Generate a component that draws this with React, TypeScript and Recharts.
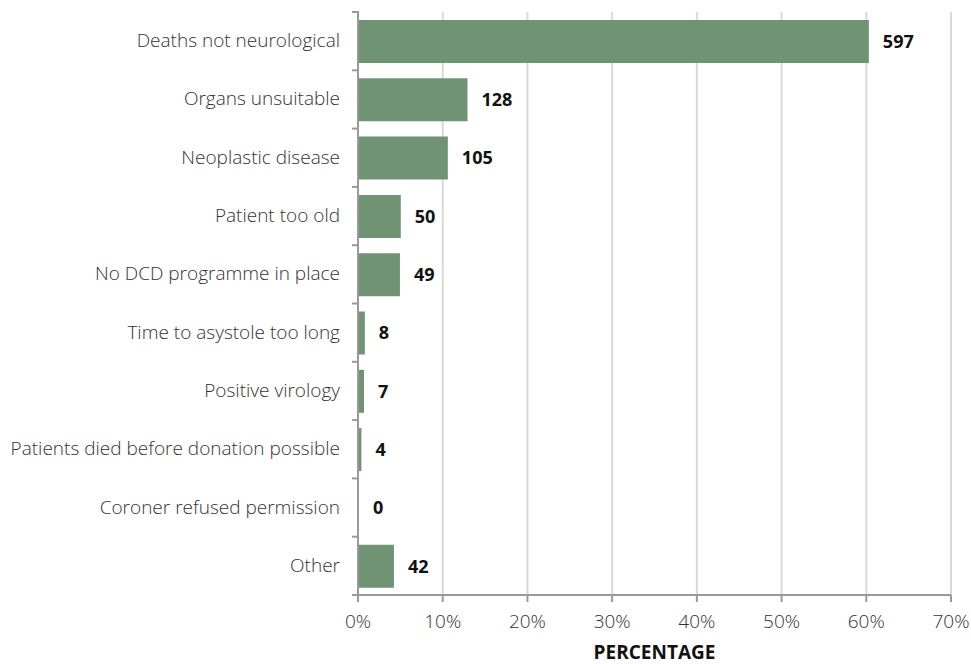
import { BarChart, Bar, XAxis, YAxis, CartesianGrid, LabelList } from 'recharts';

const categories = [
  'Deaths not neurological',
  'Organs unsuitable',
  'Neoplastic disease',
  'Patient too old',
  'No DCD programme in place',
  'Time to asystole too long',
  'Positive virology',
  'Patients died before donation possible',
  'Coroner refused permission',
  'Other',
];
const counts = [597, 128, 105, 50, 49, 8, 7, 4, 0, 42];
const xTicks = [0, 10, 20, 30, 40, 50, 60, 70];

const total = counts.reduce((a, b) => a + b, 0);
const chartData = categories.map((name, i) => ({
  name,
  count: counts[i],
  pct: (counts[i] / total) * 100,
}));

const W = 971;
const H = 664;
const MARGIN = { top: 12, right: 20, bottom: 0, left: 0 };
const X_AXIS_H = 69;
const BAND = (H - MARGIN.top - MARGIN.bottom - X_AXIS_H) / categories.length;
const FONT = '"Open Sans", sans-serif';
const AXIS = '#9a9a9a';

// category label plus a small tick on the band boundary above it
function CategoryTick(props: any) {
  const { x, y, payload, index } = props;
  const top = y - BAND / 2;
  return (
    <g>
      <line x1={x + 2} x2={x + 9} y1={top} y2={top} stroke={AXIS} strokeWidth={2} />
      {index === categories.length - 1 && (
        <line x1={x + 2} x2={x + 9} y1={top + BAND} y2={top + BAND} stroke={AXIS} strokeWidth={2} />
      )}
      <text x={x - 10} y={y} dy={6} textAnchor="end" fill="#333" fontSize={19} fontWeight={300} fontFamily={FONT}>
        {payload.value}
      </text>
    </g>
  );
}

export default function App() {
  return (
    <div style={{ position: 'absolute', left: 0, top: 0, background: '#fff' }}>
      <BarChart width={W} height={H} data={chartData} layout="vertical" margin={MARGIN} barSize={43}>
        <CartesianGrid horizontal={false} stroke="#d9d9d9" strokeWidth={2} />
        <XAxis
          type="number"
          domain={[0, 70]}
          ticks={xTicks}
          tickFormatter={(v: number) => `${v}%`}
          height={X_AXIS_H}
          axisLine={{ stroke: AXIS, strokeWidth: 2 }}
          tickLine={{ stroke: AXIS, strokeWidth: 2 }}
          tickSize={7}
          tick={{ fontSize: 19, fill: '#333', fontWeight: 300, fontFamily: FONT }}
          tickMargin={13}
          label={{
            value: 'PERCENTAGE',
            position: 'insideBottom',
            offset: 5,
            fontSize: 19,
            fontWeight: 700,
            fill: '#111',
            fontFamily: FONT,
          }}
        />
        <YAxis
          type="category"
          dataKey="name"
          width={358}
          axisLine={{ stroke: AXIS, strokeWidth: 2 }}
          tickLine={false}
          tick={<CategoryTick />}
          interval={0}
        />
        <Bar dataKey="pct" fill="#6f9373" minPointSize={1} isAnimationActive={false}>
          <LabelList
            dataKey="count"
            position="right"
            offset={14}
            fill="#111"
            fontSize={18}
            fontWeight={700}
            fontFamily={FONT}
          />
        </Bar>
      </BarChart>
    </div>
  );
}
